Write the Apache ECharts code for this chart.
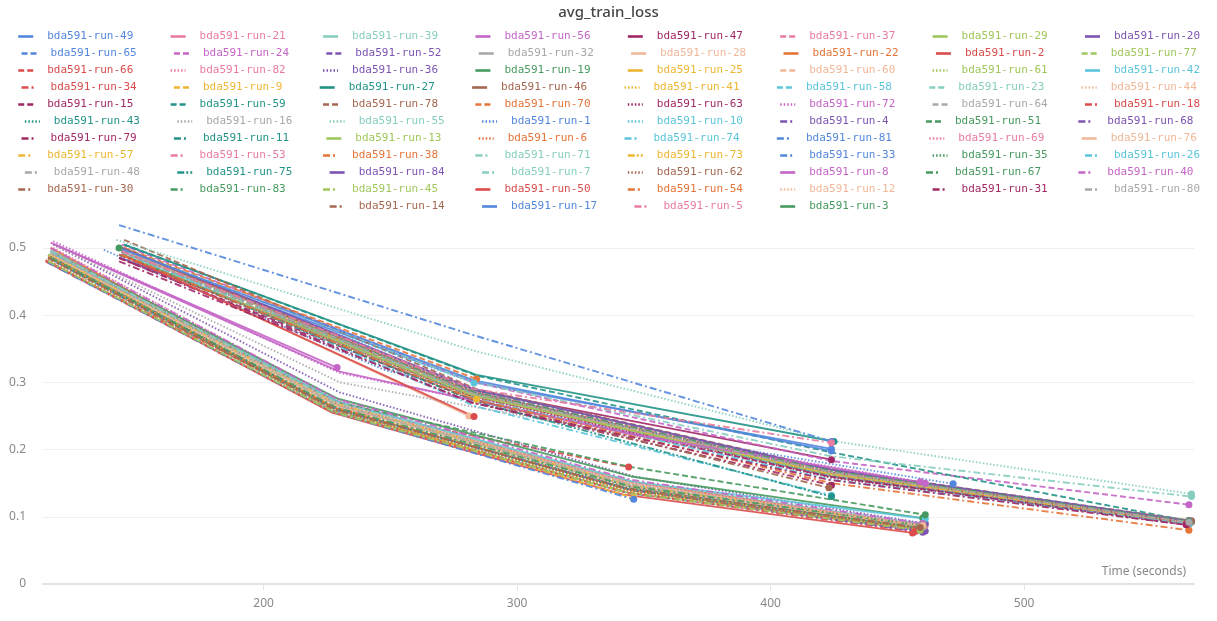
<!DOCTYPE html>
<html>
<head>
<meta charset="utf-8">
<title>avg_train_loss</title>
<script src="https://cdn.jsdelivr.net/npm/echarts@6/dist/echarts.min.js"></script>
<style>
  html, body { margin: 0; padding: 0; background: #fff; }
  #chart { width: 1217px; height: 621px; }
</style>
</head>
<body>
<div id="chart"></div>
<script>
// run names in legend order
const runNames = [
  "49", "21", "39", "56", "47", "37", "29", "20",
  "65", "24", "52", "32", "28", "22", "2", "77",
  "66", "82", "36", "19", "25", "60", "61", "42",
  "34", "9", "27", "46", "41", "58", "23", "44",
  "15", "59", "78", "70", "63", "72", "64", "18",
  "43", "16", "55", "1", "10", "4", "51", "68",
  "79", "11", "13", "6", "74", "81", "69", "76",
  "57", "53", "38", "71", "73", "33", "35", "26",
  "48", "75", "84", "7", "62", "8", "67", "40",
  "30", "83", "45", "50", "54", "12", "31", "80",
  "14", "17", "5", "3"
].map(n => "bda591-run-" + n);

// time (seconds) of each logged point, per run
const runTimes = [
  [144, 283, 424], [144, 283, 424, 565], [116, 229, 345, 460], [116, 229], [143, 283, 424], [145, 284, 425, 566], [115, 228, 344, 459], [116, 229, 345, 460],
  [115, 228, 344, 459], [144, 283, 424, 565], [116, 229, 345, 461], [144, 283, 424, 565], [145, 281], [116, 229, 345, 460], [114, 227, 342, 456], [115, 228, 344, 460],
  [115, 228, 344], [117, 230, 346, 461], [117, 230, 346, 461], [116, 229, 345, 460], [145, 284], [145, 284, 425, 566], [115, 228, 344, 459], [116, 230, 346, 461],
  [143, 282, 423, 564], [116, 229, 346], [145, 284, 425], [144, 283, 424, 565], [116, 229, 345, 460], [144, 283, 424, 565], [116, 229, 345, 460], [144, 283, 424, 565],
  [143, 282, 423, 564], [145, 284, 425, 566], [145, 284, 425, 566], [145, 284], [144, 283, 424, 565], [117, 230, 345, 459], [144, 283, 424, 565], [114, 227, 343, 457],
  [116, 229, 345, 460], [117, 230, 346, 461], [142, 283, 424, 566], [137, 248, 360, 472], [144, 283], [116, 229, 345, 460], [116, 229, 345, 461], [144, 283, 424, 565],
  [143, 282, 424], [144, 283, 424, 565], [144, 283, 424, 565], [115, 228, 344, 459], [144, 283, 424], [143, 283, 424], [116, 229, 345, 460], [116, 229, 345, 460],
  [144, 283, 424, 565], [144, 283, 424, 565], [115, 228, 344, 459], [144, 283, 424, 566], [116, 229, 345, 460], [115, 228, 346], [115, 228, 344, 459], [144, 283, 424, 565],
  [116, 229, 345, 460], [144, 283, 424], [144, 283, 424, 565], [116, 229, 345, 460], [144, 283, 424, 565], [117, 230, 346, 461], [144, 283, 424, 565], [116, 229, 345, 460],
  [143, 282, 423], [116, 229, 345, 460], [115, 228, 344, 459], [144, 283], [144, 283, 424, 565], [116, 229, 345, 460], [143, 282, 423, 564], [144, 283, 424, 565],
  [115, 228, 344, 459], [144, 283, 424], [144, 283, 424], [143]
];

// avg_train_loss at those times, per run
const runLoss = [
  [0.494, 0.300, 0.201], [0.490, 0.279, 0.163, 0.091], [0.497, 0.272, 0.152, 0.089], [0.508, 0.322], [0.486, 0.288, 0.185], [0.500, 0.284, 0.166, 0.092], [0.490, 0.262, 0.142, 0.085], [0.493, 0.268, 0.145, 0.082],
  [0.485, 0.258, 0.135, 0.080], [0.505, 0.300, 0.183, 0.118], [0.488, 0.260, 0.140, 0.079], [0.495, 0.290, 0.170, 0.093], [0.490, 0.250], [0.500, 0.266, 0.152, 0.086], [0.482, 0.255, 0.133, 0.076], [0.490, 0.257, 0.136, 0.082],
  [0.478, 0.262, 0.174], [0.500, 0.272, 0.148, 0.087], [0.505, 0.285, 0.160, 0.090], [0.495, 0.276, 0.160, 0.098], [0.500, 0.275], [0.495, 0.285, 0.167, 0.092], [0.480, 0.255, 0.137, 0.083], [0.492, 0.270, 0.152, 0.097],
  [0.490, 0.280, 0.162, 0.090], [0.485, 0.260, 0.128], [0.505, 0.311, 0.212], [0.500, 0.283, 0.160, 0.090], [0.487, 0.262, 0.140, 0.084], [0.493, 0.282, 0.160, 0.089], [0.495, 0.268, 0.147, 0.086], [0.490, 0.280, 0.165, 0.091],
  [0.485, 0.275, 0.160, 0.088], [0.505, 0.310, 0.195, 0.093], [0.512, 0.290, 0.170, 0.094], [0.500, 0.305], [0.490, 0.278, 0.158, 0.089], [0.510, 0.314, 0.225, 0.152], [0.495, 0.285, 0.165, 0.090], [0.480, 0.256, 0.136, 0.078],
  [0.488, 0.265, 0.143, 0.084], [0.505, 0.300, 0.220, 0.149], [0.512, 0.347, 0.213, 0.134], [0.497, 0.318, 0.218, 0.149], [0.490, 0.299], [0.485, 0.260, 0.140, 0.077], [0.490, 0.270, 0.174, 0.103], [0.495, 0.282, 0.165, 0.094],
  [0.485, 0.270, 0.147], [0.500, 0.288, 0.168, 0.090], [0.490, 0.280, 0.163, 0.095], [0.482, 0.258, 0.138, 0.081], [0.495, 0.265, 0.132], [0.534, 0.370, 0.212], [0.495, 0.270, 0.150, 0.088], [0.490, 0.265, 0.145, 0.085],
  [0.495, 0.283, 0.164, 0.090], [0.500, 0.286, 0.168, 0.091], [0.487, 0.262, 0.140, 0.082], [0.500, 0.300, 0.190, 0.130], [0.490, 0.268, 0.147, 0.086], [0.478, 0.255, 0.126], [0.485, 0.260, 0.140, 0.083], [0.490, 0.276, 0.155, 0.089],
  [0.492, 0.266, 0.148, 0.085], [0.490, 0.272, 0.130], [0.500, 0.290, 0.170, 0.094], [0.495, 0.270, 0.153, 0.090], [0.500, 0.285, 0.166, 0.092], [0.506, 0.316, 0.222, 0.150], [0.495, 0.285, 0.168, 0.093], [0.500, 0.275, 0.155, 0.090],
  [0.490, 0.275, 0.143], [0.485, 0.262, 0.145, 0.087], [0.480, 0.255, 0.135, 0.080], [0.490, 0.249], [0.490, 0.275, 0.150, 0.080], [0.490, 0.268, 0.150, 0.087], [0.480, 0.270, 0.155, 0.088], [0.495, 0.283, 0.166, 0.092],
  [0.485, 0.260, 0.142, 0.084], [0.498, 0.303, 0.198], [0.495, 0.290, 0.210], [0.500]
];

const xTicks = [200, 300, 400, 500];
const yTicks = [0, 0.1, 0.2, 0.3, 0.4, 0.5];

// styles (kept apart from the values)
const palette = {
  blue: "#5387DD", pink: "#E87B9F", mint: "#87CEBF", magenta: "#C565C7",
  maroon: "#A12864", lime: "#A0C75C", purple: "#7D54B2", gray: "#A8A8A8",
  peach: "#F0B899", orange: "#E57439", red: "#DA4C4C", green: "#479A5F",
  yellow: "#EDB732", cyan: "#5BC5DB", teal: "#229487", brown: "#A46750"
};
const dashes = {
  solid: "solid",
  dashed: [6, 3],
  dotted: [1.5, 2],
  dashdot: [7, 3, 2, 3],
  dashdotdot: [7, 2, 2, 2, 2, 2]
};
const runStyle = [
  "blue solid", "pink solid", "mint solid", "magenta solid", "maroon solid", "pink dashed", "lime solid", "purple solid",
  "blue dashed", "magenta dashed", "purple dashed", "gray solid", "peach solid", "orange solid", "red solid", "lime dashed",
  "red dashed", "pink dotted", "purple dotted", "green solid", "yellow solid", "peach dashed", "lime dotted", "cyan solid",
  "red dashdot", "yellow dashed", "teal solid", "brown solid", "yellow dotted", "cyan dashed", "mint dashed", "peach dotted",
  "maroon dashed", "teal dashed", "brown dashed", "orange dashed", "maroon dotted", "magenta dotted", "gray dashed", "red dashdot",
  "teal dotted", "gray dotted", "mint dotted", "blue dotted", "cyan dotted", "purple dashdot", "green dashed", "purple dashdot",
  "maroon dashdot", "teal dashdot", "lime solid", "orange dotted", "cyan dashdot", "blue dashdot", "pink dotted", "peach solid",
  "yellow dashdot", "pink dashdot", "orange dashdot", "mint dashdot", "yellow dashdotdot", "blue dashdot", "green dotted", "cyan dashdot",
  "gray dashdot", "teal dashdotdot", "purple solid", "mint dashdot", "brown dotted", "magenta solid", "green dashdot", "magenta dashdot",
  "brown dashdot", "green dashdot", "lime dashdot", "red solid", "orange dashdot", "peach dotted", "maroon dashdot", "gray dashdot",
  "brown dashdot", "blue solid", "pink dashdot", "green solid"
];

const chart = echarts.init(document.getElementById("chart"));

const series = runNames.map((name, i) => {
  const [c, d] = runStyle[i].split(" ");
  const color = palette[c];
  const times = runTimes[i];
  const loss = runLoss[i];
  const last = times.length - 1;
  return {
    type: "line",
    name: name,
    symbol: "none",
    animation: false,
    lineStyle: { color: color, width: 1.9, type: dashes[d], opacity: 0.9 },
    itemStyle: { color: color },
    emphasis: { disabled: true },
    data: times.map((t, j) => [t, loss[j]]),
    // dot on the last logged point of each run
    markPoint: {
      animation: false,
      symbol: "circle",
      symbolSize: 7,
      silent: true,
      label: { show: false },
      itemStyle: { color: color },
      data: [{ coord: [times[last], loss[last]] }]
    }
  };
});

// one legend per row so every row is centred on its own
const perRow = 8;
const legends = [];
for (let r = 0; r * perRow < runNames.length; r++) {
  const items = [];
  for (let i = r * perRow; i < Math.min((r + 1) * perRow, runNames.length); i++) {
    items.push({ name: runNames[i], textStyle: { color: palette[runStyle[i].split(" ")[0]] } });
  }
  legends.push({
    data: items,
    top: 31 + r * 17,
    left: "center",
    orient: "horizontal",
    padding: 0,
    itemGap: 36,
    itemWidth: 15,
    itemHeight: 8,
    itemStyle: { opacity: 0 },
    lineStyle: { width: 2.6, opacity: 1 },
    textStyle: { fontFamily: "DejaVu Sans Mono", fontSize: 11, padding: [0, 0, 0, 9] }
  });
}

const option = {
  backgroundColor: "#fff",
  title: {
    text: "avg_train_loss",
    left: "center",
    top: 5,
    padding: 0,
    textStyle: { fontFamily: "Noto Sans", fontSize: 15, fontWeight: 500, color: "#444" }
  },
  legend: legends,
  grid: { left: 43, right: 23, top: 221, bottom: 37 },
  xAxis: {
    type: "value",
    min: 113,
    max: 567,
    name: "Time (seconds)",
    nameLocation: "end",
    nameGap: 0,
    nameTextStyle: {
      fontFamily: "Noto Sans", fontSize: 12, color: "#888",
      align: "right", verticalAlign: "bottom", padding: [0, 8, 6, 0]
    },
    axisLine: { lineStyle: { color: "#e3e3e3", width: 2 } },
    axisTick: { customValues: xTicks, length: 6, lineStyle: { color: "#e3e3e3" } },
    axisLabel: { customValues: xTicks, color: "#888", fontFamily: "Noto Sans", fontSize: 12, margin: 14 },
    splitLine: { show: false }
  },
  yAxis: {
    type: "value",
    min: 0,
    max: 0.54,
    interval: 0.1,
    axisLine: { show: false },
    axisTick: { show: false },
    axisLabel: { customValues: yTicks, color: "#888", fontFamily: "Noto Sans", fontSize: 12, margin: 17 },
    splitLine: { showMaxLine: false, lineStyle: { color: "#efefef", width: 1 } }
  },
  series: series
};

chart.setOption(option);
window.addEventListener("resize", () => chart.resize());
</script>
</body>
</html>
